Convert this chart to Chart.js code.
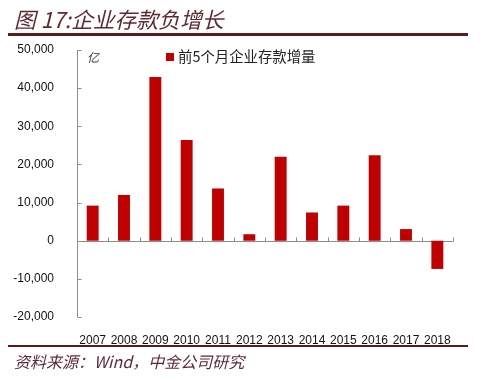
<!DOCTYPE html>
<html>
<head>
<meta charset="utf-8">
<script src="https://cdn.jsdelivr.net/npm/chart.js@4/dist/chart.umd.min.js"></script>
<style>
  html,body{margin:0;padding:0;background:#fff;}
  #wrap{position:relative;width:480px;height:380px;overflow:hidden;background:#fff;}
  #c{position:absolute;left:0;top:0;}
  .t{position:absolute;white-space:nowrap;}
  #title{left:14px;top:3px;font:italic 21.8px "Noto Sans CJK SC","Liberation Sans",sans-serif;color:#5e2a2e;}
  #line1{position:absolute;left:8px;top:33px;width:460px;height:3px;background:#5a1a1e;}
  #line2{position:absolute;left:8px;top:345px;width:460px;height:2px;background:#5a1a1e;}
  #src{left:14px;top:349px;font:italic 16px "Noto Sans CJK SC","Liberation Sans",sans-serif;color:#5e2a3a;}
  #unit{left:87px;top:48px;font:italic 12px "Noto Sans CJK SC",sans-serif;color:#333;}
  #legend{left:166px;top:45px;font:14.4px "Noto Sans CJK SC",sans-serif;color:#222;}
  #legend span.sw{display:inline-block;width:8px;height:8px;background:#c00000;margin-right:4px;vertical-align:1px;}
</style>
</head>
<body>
<div id="wrap">
  <canvas id="c" width="480" height="380"></canvas>
  <div class="t" id="title">图 17:企业存款负增长</div>
  <div id="line1"></div>
  <div class="t" id="unit">亿</div>
  <div class="t" id="legend"><span class="sw"></span>前5个月企业存款增量</div>
  <div id="line2"></div>
  <div class="t" id="src">资料来源：Wind，中金公司研究</div>
</div>
<script>
const categories = ['2007','2008','2009','2010','2011','2012','2013','2014','2015','2016','2017','2018'];
const depositIncrease = [9200, 12000, 42900, 26400, 13700, 1700, 22000, 7400, 9200, 22400, 3050, -7400];
const seriesName = '前5个月企业存款增量';
const yMin = -20000, yMax = 50000, yStep = 10000;

const axisPlugin = {
  id: 'customAxes',
  beforeDatasetsDraw(chart) {
    const {ctx, chartArea: a, scales: {x, y}} = chart;
    ctx.save();
    ctx.strokeStyle = '#8c8c8c';
    ctx.lineWidth = 1;
    ctx.beginPath();
    const X = Math.round(a.left) + 0.5;
    ctx.moveTo(X, a.top); ctx.lineTo(X, a.bottom);
    y.ticks.forEach(t => {
      const py = Math.round(y.getPixelForValue(t.value)) + 0.5;
      ctx.moveTo(X, py); ctx.lineTo(X + 4, py);
    });
    const zy = Math.round(y.getPixelForValue(0)) + 0.5;
    ctx.moveTo(a.left, zy); ctx.lineTo(a.right, zy);
    for (let i = 0; i <= categories.length; i++) {
      const px = Math.round(x.getPixelForValue(i - 0.5)) + 0.5;
      ctx.moveTo(px, zy); ctx.lineTo(px, zy - 4);
    }
    ctx.stroke();
    ctx.restore();
  }
};

new Chart(document.getElementById('c'), {
  type: 'bar',
  data: {
    labels: categories,
    datasets: [{
      label: seriesName,
      data: depositIncrease,
      backgroundColor: '#c00000',
      borderWidth: 0,
      barPercentage: 0.38,
      categoryPercentage: 1.0
    }]
  },
  options: {
    responsive: false,
    animation: false,
    layout: { padding: { left: 0, right: 27, top: 50, bottom: 33 } },
    plugins: { legend: { display: false }, tooltip: { enabled: false }, title: { display: false } },
    scales: {
      x: {
        offset: true,
        grid: { display: false },
        border: { display: false },
        ticks: { color: '#111', font: { family: '"Liberation Sans", Arial, sans-serif', size: 12 }, padding: 8, maxRotation: 0, autoSkip: false },
        afterFit(s) { s.height = 30; }
      },
      y: {
        min: yMin, max: yMax,
        grid: { display: false },
        border: { display: false },
        ticks: {
          stepSize: yStep,
          color: '#111',
          padding: 15,
          font: { family: '"Liberation Sans", Arial, sans-serif', size: 12 },
          callback: v => v.toLocaleString('en-US')
        },
        afterFit(s) { s.width = 77; }
      }
    }
  },
  plugins: [axisPlugin]
});
</script>
</body>
</html>
